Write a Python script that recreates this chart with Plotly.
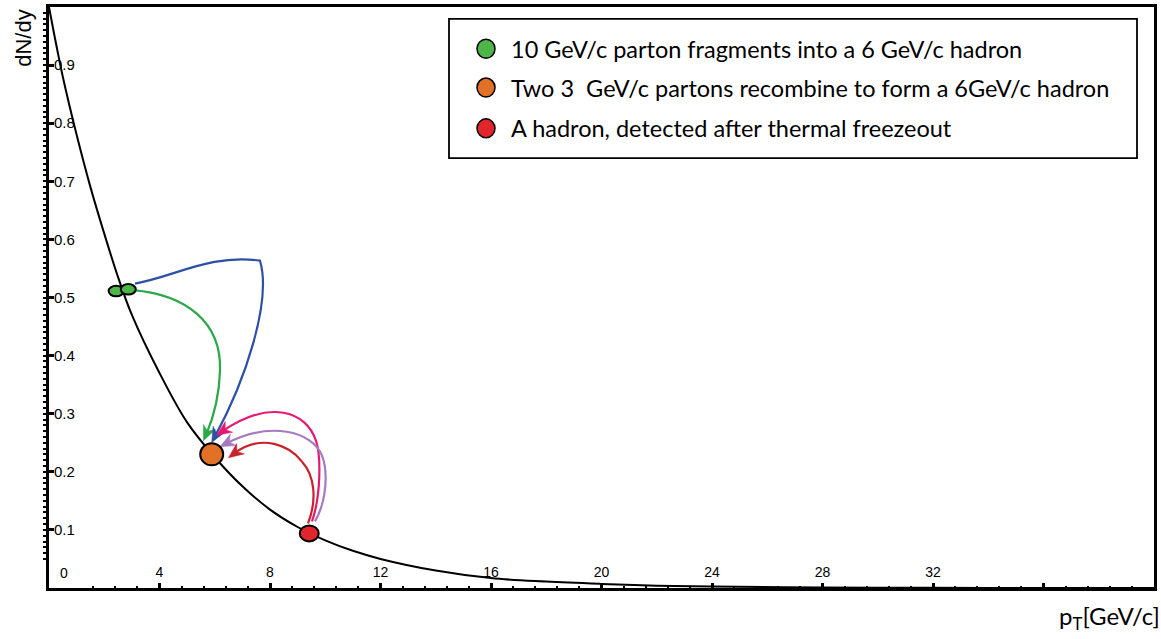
import plotly.graph_objects as go

# ---- spectrum dN/dy versus pT ----
pt = [0, 0.5, 1, 1.5, 2, 2.5, 3, 4, 5, 6, 7, 8, 9, 10, 11, 12, 14, 16, 18, 20,
      22, 24, 28, 32, 36, 40]
dndy = [1.0, 0.88, 0.78, 0.69, 0.61, 0.535, 0.47, 0.37, 0.285, 0.225, 0.175,
        0.135, 0.105, 0.082, 0.064, 0.05, 0.03, 0.017, 0.011, 0.007, 0.004,
        0.0025, 0.001, 0.0003, 0.0001, 0.0]

# ---- marked particles on the spectrum ----
green_pt = [2.43, 2.87]
green_y = [0.511, 0.514]
orange_pt = [5.89]
orange_y = [0.230]
red_pt = [9.42]
red_y = [0.094]

legend_labels = [
    "10 GeV/c parton fragments into a 6 GeV/c hadron",
    "Two 3  GeV/c partons recombine to form a 6GeV/c hadron",
    "A hadron, detected after thermal freezeout",
]

x_tickvals = [4, 8, 12, 16, 20, 24, 28, 32, 36]
x_ticktext = ["4", "8", "12", "16", "20", "24", "28", "32", ""]
x_origin_label = "0"
y_tickvals = [0.1, 0.2, 0.3, 0.4, 0.5, 0.6, 0.7, 0.8, 0.9]
y_ticktext = ["0.1", "0.2", "0.3", "0.4", "0.5", "0.6", "0.7", "0.8", "0.9"]

# ---- page geometry ----
W, H = 1161, 639
ML, MR, MT, MB = 49, 7, 4, 51
XR = [0, 40]
YR = [0, 1.0]
PW = W - ML - MR
PH = H - MT - MB

GREEN = "#4cb748"
ORANGE = "#e07127"
RED = "#e1262b"
TICK_FONT = dict(family="Liberation Sans", size=14, color="black")


def dx(px):
    return XR[0] + (px - ML) / PW * (XR[1] - XR[0])


def dy(py):
    return YR[0] + (MT + PH - py) / PH * (YR[1] - YR[0])


def px_paper(px):
    return (px - ML) / PW


def py_paper(py):
    return (MT + PH - py) / PH


def fmt(p):
    return f"{dx(p[0]):.5f},{dy(p[1]):.6f}"


# curved arrows, control points in screen pixels
arrows = [
    ("#2aa84a", (133, 288.5), [((185, 293), (222, 320), (220, 370)),
                               ((219, 400), (212, 420), (203.5, 440))]),
    ("#2d4fa5", (135, 282), [((175, 275), (210, 252), (260, 259)),
                             ((272, 300), (245, 380), (211.7, 441.7))]),
    ("#e6196e", (312, 521), [((321, 495), (321, 455), (316, 440)),
                             ((306, 410), (270, 398), (216.5, 434.5))]),
    ("#a57bc0", (315, 521), [((327, 500), (328, 470), (322, 455)),
                             ((312, 430), (270, 420), (220, 446))]),
    ("#c8222b", (308, 523), [((317, 500), (315, 475), (302, 461)),
                             ((290, 445), (262, 432), (228.5, 457))]),
]

shapes = []
HEAD_L, HEAD_W, NOTCH = 15, 6.5, 4.5
for color, start, segs in arrows:
    p2, tip = segs[-1][1], segs[-1][2]
    vx, vy = tip[0] - p2[0], tip[1] - p2[1]
    n = (vx * vx + vy * vy) ** 0.5
    ux, uy = vx / n, vy / n
    nx, ny = -uy, ux
    end = (tip[0] - 7 * ux, tip[1] - 7 * uy)
    path = "M " + fmt(start)
    for i, (c1, c2, p3) in enumerate(segs):
        if i == len(segs) - 1:
            p3 = end
        path += " C " + fmt(c1) + " " + fmt(c2) + " " + fmt(p3)
    shapes.append(dict(type="path", xref="x", yref="y", path=path,
                       line=dict(color=color, width=2.2), layer="above"))
    b1 = (tip[0] - HEAD_L * ux + HEAD_W * nx, tip[1] - HEAD_L * uy + HEAD_W * ny)
    b2 = (tip[0] - HEAD_L * ux - HEAD_W * nx, tip[1] - HEAD_L * uy - HEAD_W * ny)
    nt = (tip[0] - (HEAD_L - NOTCH) * ux, tip[1] - (HEAD_L - NOTCH) * uy)
    head = "M " + fmt(tip) + " L " + fmt(b1) + " L " + fmt(nt) + " L " + fmt(b2) + " Z"
    shapes.append(dict(type="path", xref="x", yref="y", path=head,
                       line=dict(color=color, width=0.5), fillcolor=color,
                       layer="above"))


def ellipse(x, y, w, h, color):
    return dict(type="circle", xref="x", yref="y", xsizemode="pixel",
                ysizemode="pixel", xanchor=x, yanchor=y,
                x0=-w / 2, x1=w / 2, y0=-h / 2, y1=h / 2,
                fillcolor=color, line=dict(color="black", width=2),
                layer="above")


for x, y in zip(green_pt, green_y):
    shapes.append(ellipse(x, y, 15, 10.5, GREEN))
for x, y in zip(orange_pt, orange_y):
    shapes.append(ellipse(x, y, 23, 22, ORANGE))
for x, y in zip(red_pt, red_y):
    shapes.append(ellipse(x, y, 19, 16, RED))

# legend box
shapes.append(dict(type="rect", xref="paper", yref="paper",
                   x0=px_paper(449), x1=px_paper(1137),
                   y0=py_paper(156), y1=py_paper(16),
                   line=dict(color="black", width=1.8), fillcolor="white",
                   layer="above"))

annotations = []
row_y = [46, 85, 126]
for label, color, ry in zip(legend_labels, [GREEN, ORANGE, RED], row_y):
    shapes.append(dict(type="circle", xref="paper", yref="paper",
                       xsizemode="pixel", ysizemode="pixel",
                       xanchor=px_paper(486), yanchor=py_paper(ry),
                       x0=-9, x1=9, y0=-9.5, y1=9.5, fillcolor=color,
                       line=dict(color="black", width=1.5), layer="above"))
    annotations.append(dict(x=px_paper(509), y=py_paper(ry), xref="paper",
                            yref="paper", text=label, showarrow=False,
                            xanchor="left", yanchor="middle",
                            font=dict(family="Lato", size=23.5, color="black")))

# origin label of the pT axis sits just right of the dN/dy axis
annotations.append(dict(x=XR[0], y=YR[0], xref="x", yref="y",
                        text=x_origin_label, showarrow=False,
                        xanchor="center", yanchor="middle", xshift=15,
                        yshift=15, font=TICK_FONT))
annotations.append(dict(x=px_paper(24), y=py_paper(36), xref="paper",
                        yref="paper", text="dN/dy", showarrow=False,
                        textangle=-90, xanchor="center", yanchor="middle",
                        font=dict(family="Liberation Sans", size=22,
                                  color="black")))
annotations.append(dict(x=px_paper(1057), y=py_paper(618), xref="paper",
                        yref="paper", text="p<sub>T</sub>[GeV/c]",
                        showarrow=False, xanchor="left", yanchor="middle",
                        font=dict(family="Lato", size=24, color="black")))

fig = go.Figure()
fig.add_trace(go.Scatter(x=pt, y=dndy, mode="lines",
                         line=dict(color="black", width=2, shape="spline",
                                   smoothing=1.0),
                         showlegend=False, hoverinfo="skip"))

fig.update_layout(
    width=W, height=H,
    margin=dict(l=ML, r=MR, t=MT, b=MB),
    paper_bgcolor="white", plot_bgcolor="white",
    showlegend=False,
    shapes=shapes, annotations=annotations,
    xaxis=dict(range=XR, tickmode="array", tickvals=x_tickvals,
               ticktext=x_ticktext, ticks="inside", ticklen=5, tickwidth=2.5,
               tickcolor="black", ticklabelposition="inside",
               ticklabelstandoff=3, tickfont=TICK_FONT,
               showline=True, linewidth=3, linecolor="black", mirror=True,
               showgrid=False, zeroline=False,
               minor=dict(tick0=0, dtick=0.8, ticks="inside", ticklen=2.5,
                          tickwidth=2, tickcolor="black", showgrid=False)),
    yaxis=dict(range=YR, tickmode="array", tickvals=y_tickvals,
               ticktext=y_ticktext, ticks="inside", ticklen=5, tickwidth=3,
               tickcolor="black", ticklabelposition="inside",
               tickfont=dict(family="Liberation Sans", size=15, color="black"),
               showline=True, linewidth=3, linecolor="black", mirror=True,
               showgrid=False, zeroline=False,
               minor=dict(tick0=0, dtick=0.01, ticks="outside", ticklen=3,
                          tickwidth=1.5, tickcolor="black", showgrid=False)),
)

fig.write_html("out.html")
